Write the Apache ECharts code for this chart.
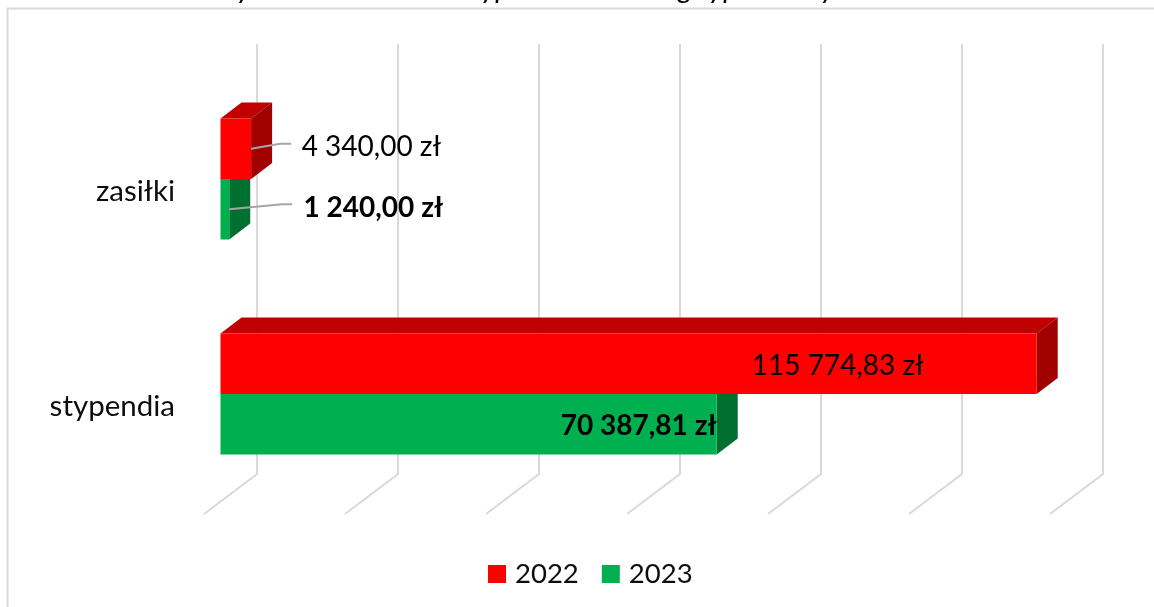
<!DOCTYPE html>
<html>
<head>
<meta charset="utf-8">
<style>
  html, body { margin: 0; padding: 0; background: #fff; }
  #chart { width: 1154px; height: 607px; }
</style>
<script src="https://cdn.jsdelivr.net/npm/echarts@6/dist/echarts.min.js"></script>
</head>
<body>
<div id="chart"></div>
<script>
// dane
var categories = ['stypendia', 'zasiłki'];
var years = ['2022', '2023'];
var values2022 = [115774.83, 4340.00];
var values2023 = [70387.81, 1240.00];
var gridTicks = [0, 20000, 40000, 60000, 80000, 100000, 120000];

var FONT = 'Lato, "Noto Sans", sans-serif';
var TXT = '#0d0d0d';
var chart = echarts.init(document.getElementById('chart'));

// kolory scian prostopadloscianu
var faces = {
  '2022': { front: '#FF0000', top: '#C00000', side: '#A00000' },
  '2023': { front: '#00B050', top: '#008A3E', side: '#007030' }
};

// perspektywa "3D" w pikselach
var WALL_DX = 53, WALL_DY = 40;      // przednia krawedz podlogi -> tylna sciana
var BAR_DX = 16.5, BAR_DY = 12.5;    // przesuniecie frontu slupka
var DEPTH_DX = 21, DEPTH_DY = 16;    // glebokosc slupka
var BAR_H = 60.5;

// polozenie etykiet wzgledem konca slupka: [stypendia, zasiłki]
var labelPos = {
  '2022': [{ dx: -113, dy: 2 }, { dx: 190, dy: -2, leader: [29, 40] }],
  '2023': [{ dx: 0, dy: 2, bold: true }, { dx: 214, dy: -1, leader: [53, 63], bold: true }]
};

function formatPln(v) {
  var parts = v.toFixed(2).split('.');
  return parts[0].replace(/\B(?=(\d{3})+$)/g, ' ') + ',' + parts[1] + ' zł';
}

function renderBar(year, row) {
  return function (params, api) {
    var val = api.value(0), cat = api.value(1);
    var end = api.coord([val, cat]);
    var start = api.coord([0, cat]);
    var x0 = start[0] + BAR_DX;
    var x1 = end[0] + BAR_DX;
    var y0 = end[1] - BAR_DY + row * BAR_H;
    var y1 = y0 + BAR_H;
    var c = faces[year];
    var kids = [
      { type: 'polygon', shape: { points: [[x0, y0], [x0 + DEPTH_DX, y0 - DEPTH_DY], [x1 + DEPTH_DX, y0 - DEPTH_DY], [x1, y0]] }, style: { fill: c.top } },
      { type: 'polygon', shape: { points: [[x1, y0], [x1 + DEPTH_DX, y0 - DEPTH_DY], [x1 + DEPTH_DX, y1 - DEPTH_DY], [x1, y1]] }, style: { fill: c.side } },
      { type: 'rect', shape: { x: x0, y: y0, width: x1 - x0, height: BAR_H }, style: { fill: c.front } }
    ];
    var pos = labelPos[year][cat];
    var cy = (y0 + y1) / 2;
    if (pos.leader) {
      kids.push({
        type: 'polyline',
        shape: { points: [[x1, cy], [x1 + pos.leader[0], cy - 5], [x1 + pos.leader[1], cy - 5]] },
        style: { stroke: '#A6A6A6', lineWidth: 2, fill: null }
      });
    }
    kids.push({
      type: 'text',
      z2: 10,
      style: {
        x: x1 + pos.dx, y: cy + pos.dy,
        text: formatPln(val),
        align: 'right', verticalAlign: 'middle',
        fill: '#000', font: (pos.bold ? 'bold ' : '') + '28px ' + FONT
      }
    });
    return { type: 'group', children: kids };
  };
}

function renderGridLine(params, api) {
  var x = api.coord([api.value(0), 0])[0];
  var g = params.coordSys;
  var yb = g.y + g.height;
  return {
    type: 'polyline',
    shape: { points: [[x, yb], [x + WALL_DX, yb - WALL_DY], [x + WALL_DX, g.y - WALL_DY]] },
    style: { stroke: '#D9D9D9', lineWidth: 2, fill: null }
  };
}

chart.setOption({
  animation: false,
  backgroundColor: '#fff',
  title: {
    text: 'Wysokość zasiłków i stypendiów według typu szkoły w latach',
    left: 'center',
    top: -31,
    textStyle: { fontFamily: FONT, fontSize: 29, fontStyle: 'italic', fontWeight: 'normal', color: '#000' }
  },
  legend: {
    data: [
      { name: years[0], icon: 'rect', itemStyle: { color: faces['2022'].front } },
      { name: years[1], icon: 'rect', itemStyle: { color: faces['2023'].front } }
    ],
    left: 488,
    top: 560,
    padding: 0,
    itemWidth: 18,
    itemHeight: 18,
    itemGap: 23,
    selectedMode: false,
    textStyle: { fontFamily: FONT, fontSize: 27.5, color: TXT, padding: [2, 0, 0, 4] }
  },
  grid: { left: 204, top: 84, width: 846, height: 430, containLabel: false },
  xAxis: {
    type: 'value', min: 0, max: 120000, interval: 20000,
    axisLine: { show: false }, axisTick: { show: false },
    axisLabel: { show: false }, splitLine: { show: false }
  },
  yAxis: {
    type: 'category', data: categories,
    axisLine: { show: false }, axisTick: { show: false },
    axisLabel: { margin: 29, fontFamily: FONT, fontSize: 29.5, color: TXT, padding: [3, 0, 0, 0] }
  },
  graphic: [{
    type: 'polyline',
    silent: true,
    z: -1,
    shape: { points: [[7.5, 607], [7.5, 8.5], [1154, 8.5]] },
    style: { stroke: '#D9D9D9', lineWidth: 2, fill: null }
  }],
  series: [
    {
      type: 'custom', name: 'siatka', silent: true, z: 1,
      renderItem: renderGridLine,
      encode: { x: 0 },
      data: gridTicks.map(function (t) { return [t]; })
    },
    {
      type: 'custom', name: years[1], silent: true, z: 2,
      renderItem: renderBar('2023', 0),
      encode: { x: 0, y: 1 },
      itemStyle: { color: faces['2023'].front },
      data: values2023.map(function (v, i) { return [v, i]; })
    },
    {
      type: 'custom', name: years[0], silent: true, z: 3,
      renderItem: renderBar('2022', -1),
      encode: { x: 0, y: 1 },
      itemStyle: { color: faces['2022'].front },
      data: values2022.map(function (v, i) { return [v, i]; })
    }
  ]
});
</script>
</body>
</html>
